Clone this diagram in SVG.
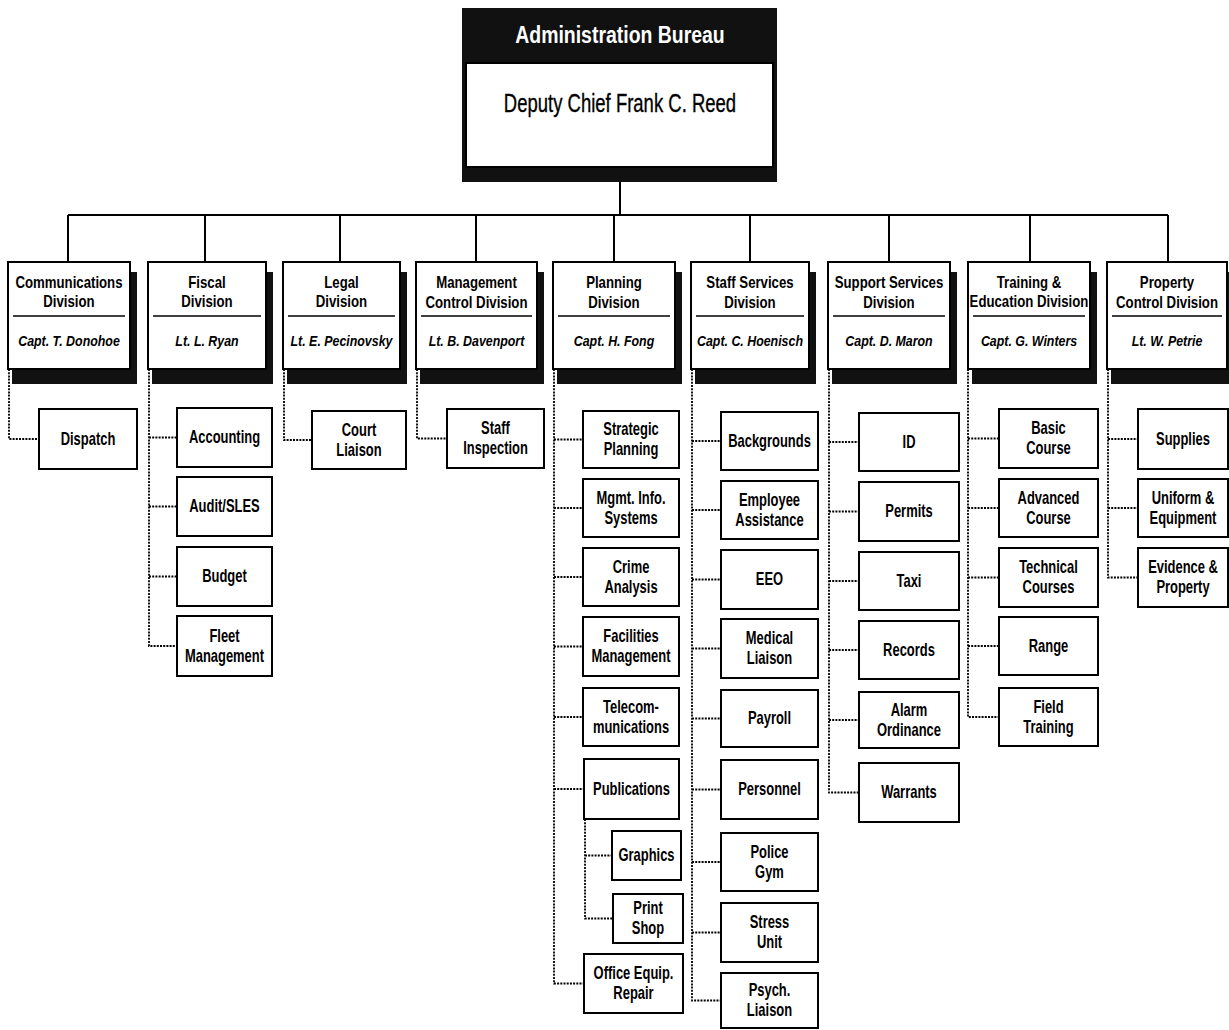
<svg xmlns="http://www.w3.org/2000/svg" width="1229" height="1030" viewBox="0 0 1229 1030">
<style>
.box{fill:#fff;stroke:#000;stroke-width:2}
.sh{fill:#111}
.sep{stroke:#000;stroke-width:1.5}
.solid{stroke:#000;stroke-width:2;fill:none}
.dot{stroke:#000;stroke-width:1.8;stroke-dasharray:2 1.2;fill:none}
text{font-family:"Liberation Sans",Arial,sans-serif;text-anchor:middle;fill:#000}
.hd{font-size:24px;font-weight:bold;fill:#fff}
.dc{font-size:25px;stroke:#000;stroke-width:0.35}
.t{font-size:16.5px;font-weight:bold}
.n{font-size:15.5px;font-weight:bold;font-style:italic}
.c{font-size:17.5px;font-weight:bold}
</style>
<rect width="1229" height="1030" fill="#fff"/>
<g id="connectors">
<path class="solid" d="M620 182V215M68 215H1168M68 215V262M205 215V262M340 215V262M476 215V262M614 215V262M750 215V262M889 215V262M1030 215V262M1168 215V262"/>
<path class="dot" d="M9 369V439H39"/>
<path class="dot" d="M149 369V646H177M149 437.5H177M149 506.5H177M149 576.5H177"/>
<path class="dot" d="M284 369V440H312"/>
<path class="dot" d="M417 369V438.5H447"/>
<path class="dot" d="M554 369V983.5H584M554 439.5H583M554 508H583M554 577H583M554 646.5H583M554 717H583M554 789H584"/>
<path class="dot" d="M585 819V918.5H613M585 855.5H612"/>
<path class="dot" d="M692 369V1000.5H721M692 441H721M692 510H721M692 579.5H721M692 648.5H721M692 718.5H721M692 789.5H721M692 862H721M692 932.5H721"/>
<path class="dot" d="M829 369V792.5H859M829 442H859M829 511.5H859M829 581H859M829 650H859M829 720H859"/>
<path class="dot" d="M968 369V717H999M968 438.5H999M968 508H999M968 577.5H999M968 646H999"/>
<path class="dot" d="M1108 369V577.5H1138M1108 439H1138M1108 508H1138"/>
</g>
<g id="bureau">
<rect x="462" y="8" width="315" height="174" fill="#111"/>
<rect x="466" y="63" width="307" height="104" class="box"/>
<text x="620" y="43" class="hd" transform="matrix(.81 0 0 1 117.8 0)">Administration Bureau</text>
<text x="620" y="112" class="dc" transform="matrix(.74 0 0 1 161.2 0)">Deputy Chief Frank C. Reed</text>
</g>
<g id="div-communications">
<rect class="sh" x="12" y="272" width="125" height="112"/>
<rect class="box" x="8" y="262" width="122" height="107"/>
<line class="sep" x1="13" y1="316" x2="125" y2="316"/>
<g transform="matrix(.8 0 0 1 13.8 0)">
<text class="t" x="69" y="288">Communications</text>
<text class="t" x="69" y="307">Division</text>
<text class="n" x="69" y="346">Capt. T. Donohoe</text>
</g>
</g>
<g id="div-fiscal">
<rect class="sh" x="152" y="272" width="121" height="112"/>
<rect class="box" x="148" y="262" width="118" height="107"/>
<line class="sep" x1="153" y1="316" x2="261" y2="316"/>
<g transform="matrix(.8 0 0 1 41.4 0)">
<text class="t" x="207" y="288">Fiscal</text>
<text class="t" x="207" y="307">Division</text>
<text class="n" x="207" y="346">Lt. L. Ryan</text>
</g>
</g>
<g id="div-legal">
<rect class="sh" x="287" y="272" width="120" height="112"/>
<rect class="box" x="283" y="262" width="117" height="107"/>
<line class="sep" x1="288" y1="316" x2="395" y2="316"/>
<g transform="matrix(.8 0 0 1 68.3 0)">
<text class="t" x="341.5" y="288">Legal</text>
<text class="t" x="341.5" y="307">Division</text>
<text class="n" x="341.5" y="346">Lt. E. Pecinovsky</text>
</g>
</g>
<g id="div-management">
<rect class="sh" x="420" y="272" width="124" height="112"/>
<rect class="box" x="416" y="262" width="121" height="107"/>
<line class="sep" x1="421" y1="316" x2="532" y2="316"/>
<g transform="matrix(.8 0 0 1 95.3 0)">
<text class="t" x="476.5" y="288">Management</text>
<text class="t" x="476.5" y="308">Control Division</text>
<text class="n" x="476.5" y="346">Lt. B. Davenport</text>
</g>
</g>
<g id="div-planning">
<rect class="sh" x="557" y="272" width="125" height="112"/>
<rect class="box" x="553" y="262" width="122" height="107"/>
<line class="sep" x1="558" y1="316" x2="670" y2="316"/>
<g transform="matrix(.8 0 0 1 122.8 0)">
<text class="t" x="614" y="288">Planning</text>
<text class="t" x="614" y="308">Division</text>
<text class="n" x="614" y="346">Capt. H. Fong</text>
</g>
</g>
<g id="div-staff">
<rect class="sh" x="695" y="272" width="121" height="112"/>
<rect class="box" x="691" y="262" width="118" height="107"/>
<line class="sep" x1="696" y1="316" x2="804" y2="316"/>
<g transform="matrix(.8 0 0 1 150 0)">
<text class="t" x="750" y="288">Staff Services</text>
<text class="t" x="750" y="308">Division</text>
<text class="n" x="750" y="346">Capt. C. Hoenisch</text>
</g>
</g>
<g id="div-support">
<rect class="sh" x="832" y="272" width="125" height="112"/>
<rect class="box" x="828" y="262" width="122" height="107"/>
<line class="sep" x1="833" y1="316" x2="945" y2="316"/>
<g transform="matrix(.8 0 0 1 177.8 0)">
<text class="t" x="889" y="288">Support Services</text>
<text class="t" x="889" y="308">Division</text>
<text class="n" x="889" y="346">Capt. D. Maron</text>
</g>
</g>
<g id="div-training">
<rect class="sh" x="972" y="272" width="125" height="112"/>
<rect class="box" x="968" y="262" width="122" height="107"/>
<line class="sep" x1="973" y1="316" x2="1085" y2="316"/>
<g transform="matrix(.8 0 0 1 205.8 0)">
<text class="t" x="1029" y="288">Training &amp;</text>
<text class="t" x="1029" y="307">Education Division</text>
<text class="n" x="1029" y="346">Capt. G. Winters</text>
</g>
</g>
<g id="div-property">
<rect class="sh" x="1111" y="272" width="123" height="112"/>
<rect class="box" x="1107" y="262" width="120" height="107"/>
<line class="sep" x1="1112" y1="316" x2="1222" y2="316"/>
<g transform="matrix(.8 0 0 1 233.4 0)">
<text class="t" x="1167" y="288">Property</text>
<text class="t" x="1167" y="308">Control Division</text>
<text class="n" x="1167" y="346">Lt.  W. Petrie</text>
</g>
</g>
<g id="dispatch"><rect class="box" x="39" y="409" width="98" height="60"/><text class="c" x="88" y="445" transform="matrix(.74 0 0 1 22.88 0)">Dispatch</text></g>
<g id="accounting"><rect class="box" x="177" y="408" width="95" height="59"/><text class="c" x="224.5" y="443.5" transform="matrix(.74 0 0 1 58.37 0)">Accounting</text></g>
<g id="audit"><rect class="box" x="177" y="477" width="95" height="59"/><text class="c" x="224.5" y="512.5" transform="matrix(.74 0 0 1 58.37 0)">Audit/SLES</text></g>
<g id="budget"><rect class="box" x="177" y="547" width="95" height="59"/><text class="c" x="224.5" y="582.5" transform="matrix(.74 0 0 1 58.37 0)">Budget</text></g>
<g id="fleet"><rect class="box" x="177" y="616" width="95" height="60"/><g transform="matrix(.74 0 0 1 58.37 0)"><text class="c" x="224.5" y="642">Fleet</text><text class="c" x="224.5" y="662">Management</text></g></g>
<g id="court"><rect class="box" x="312" y="411" width="94" height="58"/><g transform="matrix(.74 0 0 1 93.34 0)"><text class="c" x="359" y="436">Court</text><text class="c" x="359" y="456">Liaison</text></g></g>
<g id="staff-inspection"><rect class="box" x="447" y="409" width="97" height="59"/><g transform="matrix(.74 0 0 1 128.83 0)"><text class="c" x="495.5" y="434.5">Staff</text><text class="c" x="495.5" y="454.5">Inspection</text></g></g>
<g id="strategic"><rect class="box" x="583" y="411" width="96" height="57"/><g transform="matrix(.74 0 0 1 164.06 0)"><text class="c" x="631" y="435.5">Strategic</text><text class="c" x="631" y="455.5">Planning</text></g></g>
<g id="mis"><rect class="box" x="583" y="479" width="96" height="58"/><g transform="matrix(.74 0 0 1 164.06 0)"><text class="c" x="631" y="504">Mgmt. Info.</text><text class="c" x="631" y="524">Systems</text></g></g>
<g id="crime"><rect class="box" x="583" y="548" width="96" height="58"/><g transform="matrix(.74 0 0 1 164.06 0)"><text class="c" x="631" y="573">Crime</text><text class="c" x="631" y="593">Analysis</text></g></g>
<g id="facilities"><rect class="box" x="583" y="617" width="96" height="59"/><g transform="matrix(.74 0 0 1 164.06 0)"><text class="c" x="631" y="642.5">Facilities</text><text class="c" x="631" y="662.5">Management</text></g></g>
<g id="telecom"><rect class="box" x="583" y="688" width="96" height="58"/><g transform="matrix(.74 0 0 1 164.06 0)"><text class="c" x="631" y="713">Telecom-</text><text class="c" x="631" y="733">munications</text></g></g>
<g id="publications"><rect class="box" x="584" y="759" width="95" height="60"/><text class="c" x="631.5" y="795" transform="matrix(.74 0 0 1 164.19 0)">Publications</text></g>
<g id="graphics"><rect class="box" x="612" y="831" width="69" height="49"/><text class="c" x="646.5" y="861.5" transform="matrix(.74 0 0 1 168.09 0)">Graphics</text></g>
<g id="print"><rect class="box" x="613" y="894" width="70" height="49"/><g transform="matrix(.74 0 0 1 168.48 0)"><text class="c" x="648" y="914.5">Print</text><text class="c" x="648" y="934.5">Shop</text></g></g>
<g id="office"><rect class="box" x="584" y="954" width="99" height="59"/><g transform="matrix(.74 0 0 1 164.71 0)"><text class="c" x="633.5" y="979.5">Office Equip.</text><text class="c" x="633.5" y="999.5">Repair</text></g></g>
<g id="backgrounds"><rect class="box" x="721" y="412" width="97" height="58"/><text class="c" x="769.5" y="447" transform="matrix(.74 0 0 1 200.07 0)">Backgrounds</text></g>
<g id="employee"><rect class="box" x="721" y="481" width="97" height="58"/><g transform="matrix(.74 0 0 1 200.07 0)"><text class="c" x="769.5" y="506">Employee</text><text class="c" x="769.5" y="526">Assistance</text></g></g>
<g id="eeo"><rect class="box" x="721" y="550" width="97" height="59"/><text class="c" x="769.5" y="585.5" transform="matrix(.74 0 0 1 200.07 0)">EEO</text></g>
<g id="medical"><rect class="box" x="721" y="619" width="97" height="59"/><g transform="matrix(.74 0 0 1 200.07 0)"><text class="c" x="769.5" y="644.5">Medical</text><text class="c" x="769.5" y="664.5">Liaison</text></g></g>
<g id="payroll"><rect class="box" x="721" y="690" width="97" height="57"/><text class="c" x="769.5" y="724.5" transform="matrix(.74 0 0 1 200.07 0)">Payroll</text></g>
<g id="personnel"><rect class="box" x="721" y="760" width="97" height="59"/><text class="c" x="769.5" y="795.5" transform="matrix(.74 0 0 1 200.07 0)">Personnel</text></g>
<g id="gym"><rect class="box" x="721" y="833" width="97" height="58"/><g transform="matrix(.74 0 0 1 200.07 0)"><text class="c" x="769.5" y="858">Police</text><text class="c" x="769.5" y="878">Gym</text></g></g>
<g id="stress"><rect class="box" x="721" y="903" width="97" height="59"/><g transform="matrix(.74 0 0 1 200.07 0)"><text class="c" x="769.5" y="928.5">Stress</text><text class="c" x="769.5" y="948.5">Unit</text></g></g>
<g id="psych"><rect class="box" x="721" y="973" width="97" height="55"/><g transform="matrix(.74 0 0 1 200.07 0)"><text class="c" x="769.5" y="996.5">Psych.</text><text class="c" x="769.5" y="1016.5">Liaison</text></g></g>
<g id="id"><rect class="box" x="859" y="413" width="100" height="58"/><text class="c" x="909" y="448" transform="matrix(.74 0 0 1 236.34 0)">ID</text></g>
<g id="permits"><rect class="box" x="859" y="482" width="100" height="59"/><text class="c" x="909" y="517.5" transform="matrix(.74 0 0 1 236.34 0)">Permits</text></g>
<g id="taxi"><rect class="box" x="859" y="552" width="100" height="58"/><text class="c" x="909" y="587" transform="matrix(.74 0 0 1 236.34 0)">Taxi</text></g>
<g id="records"><rect class="box" x="859" y="621" width="100" height="58"/><text class="c" x="909" y="656" transform="matrix(.74 0 0 1 236.34 0)">Records</text></g>
<g id="alarm"><rect class="box" x="859" y="692" width="100" height="56"/><g transform="matrix(.74 0 0 1 236.34 0)"><text class="c" x="909" y="716">Alarm</text><text class="c" x="909" y="736">Ordinance</text></g></g>
<g id="warrants"><rect class="box" x="859" y="763" width="100" height="59"/><text class="c" x="909" y="798.5" transform="matrix(.74 0 0 1 236.34 0)">Warrants</text></g>
<g id="basic"><rect class="box" x="999" y="409" width="99" height="59"/><g transform="matrix(.74 0 0 1 272.61 0)"><text class="c" x="1048.5" y="434.5">Basic</text><text class="c" x="1048.5" y="454.5">Course</text></g></g>
<g id="advanced"><rect class="box" x="999" y="479" width="99" height="58"/><g transform="matrix(.74 0 0 1 272.61 0)"><text class="c" x="1048.5" y="504">Advanced</text><text class="c" x="1048.5" y="524">Course</text></g></g>
<g id="technical"><rect class="box" x="999" y="548" width="99" height="59"/><g transform="matrix(.74 0 0 1 272.61 0)"><text class="c" x="1048.5" y="573.5">Technical</text><text class="c" x="1048.5" y="593.5">Courses</text></g></g>
<g id="range"><rect class="box" x="999" y="617" width="99" height="58"/><text class="c" x="1048.5" y="652" transform="matrix(.74 0 0 1 272.61 0)">Range</text></g>
<g id="field"><rect class="box" x="999" y="688" width="99" height="58"/><g transform="matrix(.74 0 0 1 272.61 0)"><text class="c" x="1048.5" y="713">Field</text><text class="c" x="1048.5" y="733">Training</text></g></g>
<g id="supplies"><rect class="box" x="1138" y="409" width="90" height="60"/><text class="c" x="1183" y="445" transform="matrix(.74 0 0 1 307.58 0)">Supplies</text></g>
<g id="uniform"><rect class="box" x="1138" y="479" width="90" height="58"/><g transform="matrix(.74 0 0 1 307.58 0)"><text class="c" x="1183" y="504">Uniform &amp;</text><text class="c" x="1183" y="524">Equipment</text></g></g>
<g id="evidence"><rect class="box" x="1138" y="548" width="90" height="59"/><g transform="matrix(.74 0 0 1 307.58 0)"><text class="c" x="1183" y="573.5">Evidence &amp;</text><text class="c" x="1183" y="593.5">Property</text></g></g>
</svg>
